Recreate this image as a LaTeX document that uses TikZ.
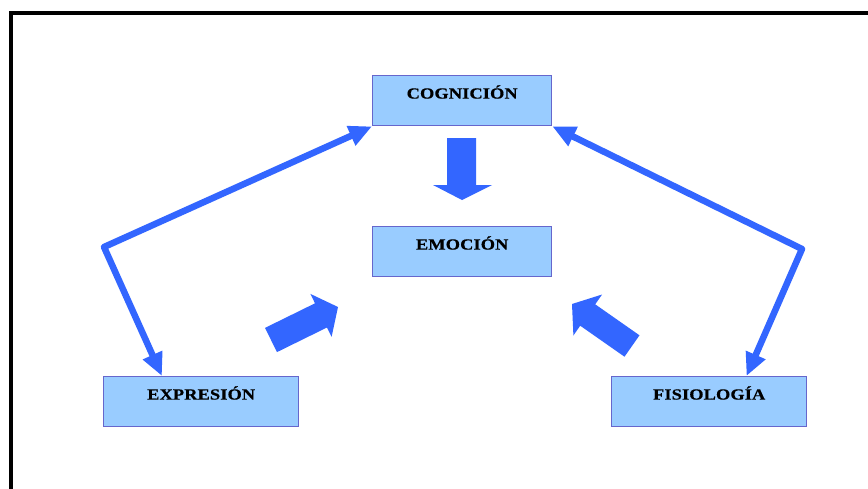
\documentclass[tikz,border=0pt]{standalone}
\usepackage{fontspec}
\setmainfont{Liberation Serif}[FakeStretch=1.18,LetterSpace=1,FakeBold=0.6]
\usetikzlibrary{arrows.meta,calc}
\definecolor{boxfill}{HTML}{99CCFF}
\definecolor{boxline}{HTML}{6666CC}
\definecolor{arrblue}{HTML}{3366FF}
\tikzset{
  conbox/.style={draw=boxline, line width=1.4pt, fill=boxfill, minimum width=179pt, minimum height=50pt, anchor=north west, inner sep=0pt},
  boxtext/.style={font=\bfseries\fontsize{15.5}{17}\selectfont, text=black},
  conline/.style={draw=arrblue, line width=6.5pt, line join=round, {Triangle[length=23pt,width=20pt]}-{Triangle[length=23pt,width=20pt]}},
  blockarrow/.style={fill=arrblue, draw=none}
}
\begin{document}
\begin{tikzpicture}[x=1pt,y=-1pt]
\useasboundingbox (0,0) rectangle (868,488);
\fill[white] (0,0) rectangle (868,488);
% frame
\draw[line width=4.3pt, line cap=rect] (11,495) -- (11,13) -- (875,13);
% boxes
\node[conbox, minimum width=179pt] (cog) at (372,75) {};
\node[conbox, minimum width=179pt] (emo) at (372,226) {};
\node[conbox, minimum width=195pt] (exp) at (103,376) {};
\node[conbox, minimum width=195pt] (fis) at (611,376) {};
\node[boxtext] (cogt) at ($(cog.north)+(0,17)$) {COGNICIÓN};
\node[boxtext] (emot) at ($(emo.north)+(0,17)$) {EMOCIÓN};
\node[boxtext] (expt) at ($(exp.north)+(0,17)$) {EXPRESIÓN};
\node[boxtext] (fist) at ($(fis.north)+(0,17)$) {FISIOLOGÍA};
% connectors
\coordinate (bendL) at (104,247);
\coordinate (bendR) at (802,249);
\draw[conline] (cog.south west) -- (bendL) -- ($(exp.north west)!0.30!(exp.north east)$);
\draw[conline] (cog.south east) -- (bendR) -- ($(fis.north west)!0.69!(fis.north east)$);
% block arrows
\fill[blockarrow] (447,138) -- (476,138) -- (476,185) -- (492,185) -- (462,200) -- (433,185) -- (447,185) -- cycle;
\fill[blockarrow] (277,352.1) -- (265,327.9) -- (315,303.3) -- (310.4,293.9) -- (338,307) -- (331.6,336.9) -- (327,327.5) -- cycle;
\fill[blockarrow] (639.5,335.3) -- (624.5,356.7) -- (580.2,325.7) -- (573.4,335.5) -- (572,304) -- (602.1,294.5) -- (595.2,304.3) -- cycle;
\end{tikzpicture}
\end{document}
